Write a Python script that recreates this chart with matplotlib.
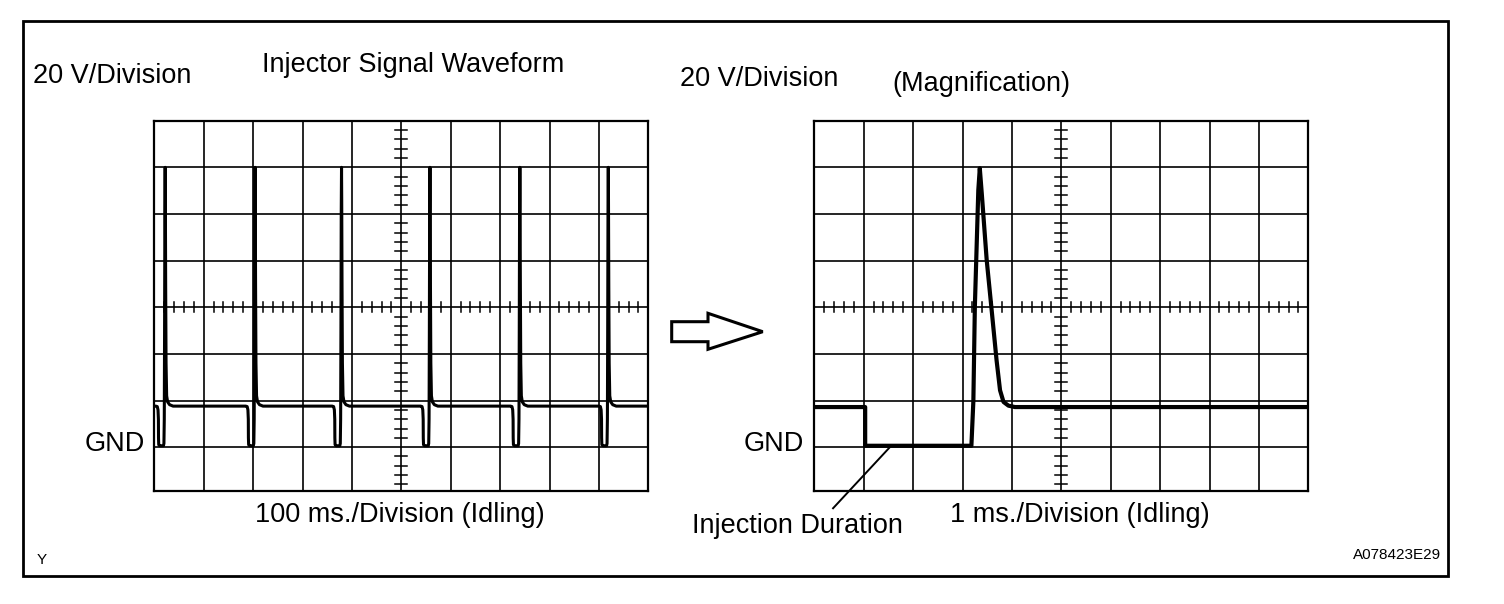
import matplotlib
matplotlib.use('Agg')
from matplotlib import pyplot as plt
from matplotlib.patches import Rectangle, Polygon
import numpy as np

plt.rcParams['font.family'] = ['Liberation Sans', 'DejaVu Sans']

W, H = 1504, 604

# screen grid (divisions)
n_cols = 10
n_rows = 8
idle_level = 1.88
gnd_level = 1.03

# left screen: 100 ms/div, spike tops (div)
spike_pos = [0.22, 2.04, 3.79, 5.58, 7.40, 9.19]
# shape of one pulse around its spike: offset (div), level (div)
pulse_dx = [-0.19, -0.16, -0.145, -0.137, -0.135, -0.13, -0.11, -0.035, -0.025,
            -0.018, -0.012, -0.006, 0.0, 0.004, 0.010, 0.018, 0.030, 0.050, 0.090, 0.16]
pulse_lv = [1.88, 1.87, 1.80, 1.60, 1.20, 1.05, 1.03, 1.03, 1.08,
            1.60, 3.50, 6.00, 7.00, 6.30, 4.50, 2.80, 2.10, 1.97, 1.91, 1.88]

# right screen: 1 ms/div, magnified single pulse
mag_x = [0.0, 1.03, 1.03, 3.18, 3.22, 3.25, 3.32, 3.35, 3.39, 3.49, 3.59,
         3.69, 3.76, 3.83, 3.93, 4.06, 10.0]
mag_y = [1.86, 1.86, 1.03, 1.03, 1.99, 4.01, 6.51, 6.98, 6.44, 5.01, 3.94,
         2.86, 2.22, 1.97, 1.89, 1.86, 1.86]

TXT = 19.5
SMALL = 11


def fx(x):
    return x / W


def fy(y):
    return 1 - y / H


def setup_screen(ax):
    ax.set_xlim(0, n_cols)
    ax.set_ylim(0.06, n_rows)
    ax.set_xticks([])
    ax.set_yticks([])
    for s in ax.spines.values():
        s.set_linewidth(1.6)
    for gx in range(1, n_cols):
        ax.axvline(gx, color='black', lw=1.2, zorder=1)
    for gy in range(1, n_rows):
        ax.axhline(gy, color='black', lw=1.2, zorder=1)
    # small ticks on the centre lines
    cx, cy = n_cols / 2, n_rows / 2
    for t in np.arange(0.2, n_cols, 0.2):
        if abs(t - round(t)) > 0.05:
            ax.plot([t, t], [cy - 0.107, cy + 0.107], color='black', lw=1.1, zorder=1)
    for t in np.arange(0.2, n_rows, 0.2):
        if abs(t - round(t)) > 0.05:
            ax.plot([cx - 0.12, cx + 0.11], [t, t], color='black', lw=1.1, zorder=1)


fig = plt.figure(figsize=(W / 100, H / 100), dpi=100)

ax1 = fig.add_axes([fx(154.3), fy(491), 494 / W, 370.3 / H])
ax2 = fig.add_axes([fx(814.3), fy(491), 494 / W, 370.3 / H])
setup_screen(ax1)
setup_screen(ax2)

# left waveform
tx = [0.02]
ty = [idle_level]
for s in spike_pos:
    tx += [s + d for d in pulse_dx]
    ty += pulse_lv
tx.append(n_cols)
ty.append(idle_level)
ax1.plot(tx, ty, color='black', lw=2.2, solid_joinstyle='round', zorder=3)

# magnified waveform
ax2.plot(mag_x, mag_y, color='black', lw=3.0, solid_joinstyle='round', zorder=3)

# leader line for injection duration
ax2.plot([1.53, 0.38], [1.0, -0.31], color='black', lw=1.4, clip_on=False)

# texts
fig.text(fx(33), fy(83), '20 V/Division', fontsize=TXT, va='baseline')
fig.text(fx(262), fy(72), 'Injector Signal Waveform', fontsize=TXT, va='baseline')
fig.text(fx(680), fy(86), '20 V/Division', fontsize=TXT, va='baseline')
fig.text(fx(892), fy(91), '(Magnification)', fontsize=TXT, va='baseline')
fig.text(fx(145), fy(451), 'GND', fontsize=TXT, va='baseline', ha='right')
fig.text(fx(804), fy(451), 'GND', fontsize=TXT, va='baseline', ha='right')
fig.text(fx(255), fy(522), '100 ms./Division (Idling)', fontsize=TXT, va='baseline')
fig.text(fx(950), fy(522), '1 ms./Division (Idling)', fontsize=TXT, va='baseline')
fig.text(fx(692), fy(533), 'Injection Duration', fontsize=TXT, va='baseline')
fig.text(fx(37), fy(564), 'Y', fontsize=SMALL, va='baseline')
fig.text(fx(1441), fy(559), 'A078423E29', fontsize=SMALL, va='baseline', ha='right')

# hollow arrow between the screens
arrow_px = [(671.7, 321.7), (708, 321.7), (708, 313.3), (762.7, 331.7),
            (708, 349.3), (708, 341.7), (671.7, 341.7)]
fig.patches.append(Polygon([(fx(x), fy(y)) for x, y in arrow_px], closed=True,
                           transform=fig.transFigure, facecolor='white',
                           edgecolor='black', lw=2.2))

# outer frame
fig.patches.append(Rectangle((fx(22.7), fy(576)), (1447.7 - 22.7) / W, (576 - 20.7) / H,
                             transform=fig.transFigure, fill=False,
                             edgecolor='black', lw=2.0))

plt.savefig('out.png', dpi=100)
plt.close()
